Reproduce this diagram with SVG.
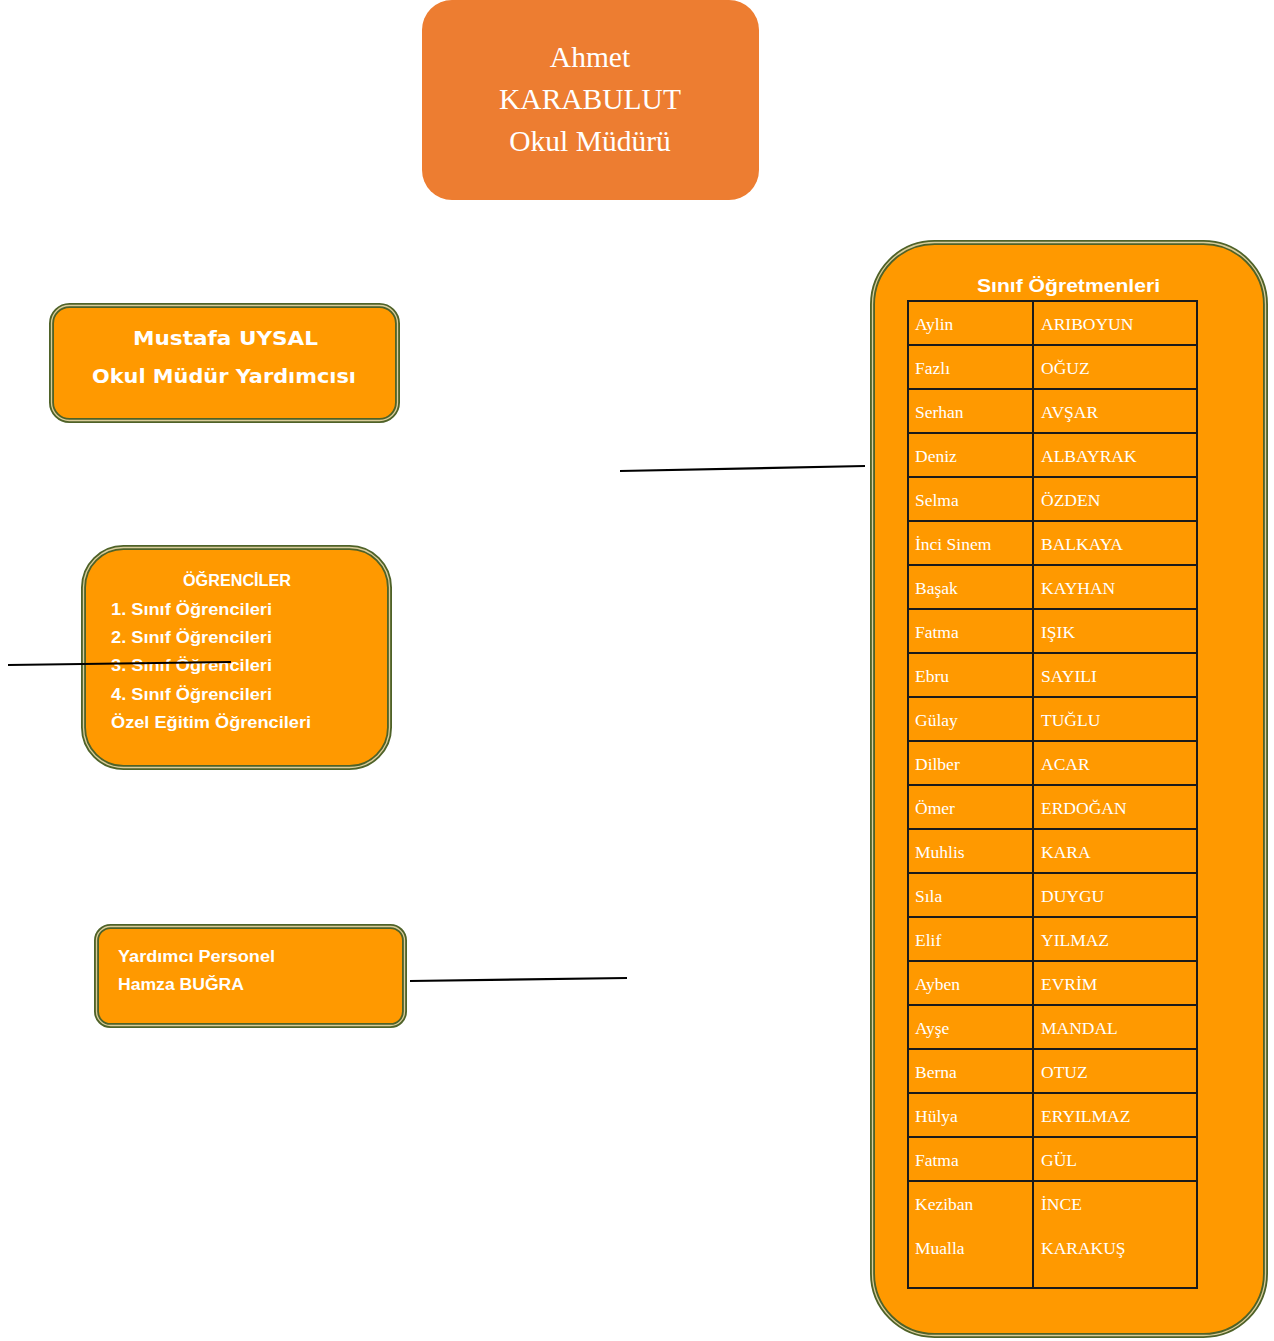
<svg xmlns="http://www.w3.org/2000/svg" width="1274" height="1341" viewBox="0 0 1274 1341">
<style>
.box{fill:#FF9900;stroke:#4F6228;stroke-width:5}
.inner{fill:none;stroke:#D9CC9A;stroke-width:1.3}
.top{font-family:"Liberation Serif",serif;font-size:29.5px;fill:#fff;text-anchor:middle}
.sans{font-family:"Liberation Sans","DejaVu Sans",sans-serif;font-weight:bold;fill:#fff}
.comic{font-family:"DejaVu Sans",sans-serif;font-weight:bold;fill:#fff;font-size:20px}
.cell{font-family:"Liberation Serif",serif;font-size:17.5px;fill:#fff}
.grid{stroke:#1a1a1a;stroke-width:2;fill:none}
.conn{stroke:#000;stroke-width:2.2;fill:none}
</style>
<rect width="1274" height="1341" fill="#fff"/>

<g id="mudur">
<rect x="422" y="0" width="337" height="200" rx="30" fill="#ED7D31"/>
<text class="top" x="590" y="67">Ahmet</text>
<text class="top" x="590" y="109">KARABULUT</text>
<text class="top" x="590" y="151">Okul Müdürü</text>
</g>

<g id="mudur-yardimcisi">
<rect class="box" x="51.5" y="305.5" width="346" height="115" rx="18"/>
<rect class="inner" x="51.5" y="305.5" width="346" height="115" rx="18"/>
<text class="comic" x="133" y="345" textLength="185" lengthAdjust="spacingAndGlyphs">Mustafa UYSAL</text>
<text class="comic" x="92" y="383" textLength="264" lengthAdjust="spacingAndGlyphs">Okul Müdür Yardımcısı</text>
</g>

<g id="ogrenciler">
<rect class="box" x="83.5" y="547.5" width="306" height="220" rx="40"/>
<rect class="inner" x="83.5" y="547.5" width="306" height="220" rx="40"/>
<text class="sans" font-size="16" x="183" y="586" textLength="108" lengthAdjust="spacingAndGlyphs">ÖĞRENCİLER</text>
<text class="sans" font-size="16" x="111" y="615" textLength="161" lengthAdjust="spacingAndGlyphs">1. Sınıf Öğrencileri</text>
<text class="sans" font-size="16" x="111" y="643" textLength="161" lengthAdjust="spacingAndGlyphs">2. Sınıf Öğrencileri</text>
<text class="sans" font-size="16" x="111" y="671" textLength="161" lengthAdjust="spacingAndGlyphs">3. Sınıf Öğrencileri</text>
<text class="sans" font-size="16" x="111" y="700" textLength="161" lengthAdjust="spacingAndGlyphs">4. Sınıf Öğrencileri</text>
<text class="sans" font-size="16" x="111" y="728" textLength="200" lengthAdjust="spacingAndGlyphs">Özel Eğitim Öğrencileri</text>
</g>

<g id="yardimci-personel">
<rect class="box" x="96.5" y="926.5" width="308" height="99" rx="14"/>
<rect class="inner" x="96.5" y="926.5" width="308" height="99" rx="14"/>
<text class="sans" font-size="16" x="118" y="962" textLength="157" lengthAdjust="spacingAndGlyphs">Yardımcı Personel</text>
<text class="sans" font-size="16" x="118" y="990" textLength="126" lengthAdjust="spacingAndGlyphs">Hamza  BUĞRA</text>
</g>

<g id="sinif-ogretmenleri">
<rect class="box" x="872.5" y="242.5" width="393" height="1093" rx="62"/>
<rect class="inner" x="872.5" y="242.5" width="393" height="1093" rx="62"/>
<text class="sans" font-size="19" x="977" y="292" textLength="183" lengthAdjust="spacingAndGlyphs">Sınıf Öğretmenleri</text>
<g class="grid">
<rect x="908" y="301" width="289" height="987"/>
<line x1="1033" y1="301" x2="1033" y2="1288"/>
<line x1="908" y1="345" x2="1197" y2="345"/>
<line x1="908" y1="389" x2="1197" y2="389"/>
<line x1="908" y1="433" x2="1197" y2="433"/>
<line x1="908" y1="477" x2="1197" y2="477"/>
<line x1="908" y1="521" x2="1197" y2="521"/>
<line x1="908" y1="565" x2="1197" y2="565"/>
<line x1="908" y1="609" x2="1197" y2="609"/>
<line x1="908" y1="653" x2="1197" y2="653"/>
<line x1="908" y1="697" x2="1197" y2="697"/>
<line x1="908" y1="741" x2="1197" y2="741"/>
<line x1="908" y1="785" x2="1197" y2="785"/>
<line x1="908" y1="829" x2="1197" y2="829"/>
<line x1="908" y1="873" x2="1197" y2="873"/>
<line x1="908" y1="917" x2="1197" y2="917"/>
<line x1="908" y1="961" x2="1197" y2="961"/>
<line x1="908" y1="1005" x2="1197" y2="1005"/>
<line x1="908" y1="1049" x2="1197" y2="1049"/>
<line x1="908" y1="1093" x2="1197" y2="1093"/>
<line x1="908" y1="1137" x2="1197" y2="1137"/>
<line x1="908" y1="1181" x2="1197" y2="1181"/>
</g>
<g class="cell">
<text x="915" y="330">Aylin</text><text x="1041" y="330">ARIBOYUN</text>
<text x="915" y="374">Fazlı</text><text x="1041" y="374">OĞUZ</text>
<text x="915" y="418">Serhan</text><text x="1041" y="418">AVŞAR</text>
<text x="915" y="462">Deniz</text><text x="1041" y="462">ALBAYRAK</text>
<text x="915" y="506">Selma</text><text x="1041" y="506">ÖZDEN</text>
<text x="915" y="550">İnci Sinem</text><text x="1041" y="550">BALKAYA</text>
<text x="915" y="594">Başak</text><text x="1041" y="594">KAYHAN</text>
<text x="915" y="638">Fatma</text><text x="1041" y="638">IŞIK</text>
<text x="915" y="682">Ebru</text><text x="1041" y="682">SAYILI</text>
<text x="915" y="726">Gülay</text><text x="1041" y="726">TUĞLU</text>
<text x="915" y="770">Dilber</text><text x="1041" y="770">ACAR</text>
<text x="915" y="814">Ömer</text><text x="1041" y="814">ERDOĞAN</text>
<text x="915" y="858">Muhlis</text><text x="1041" y="858">KARA</text>
<text x="915" y="902">Sıla</text><text x="1041" y="902">DUYGU</text>
<text x="915" y="946">Elif</text><text x="1041" y="946">YILMAZ</text>
<text x="915" y="990">Ayben</text><text x="1041" y="990">EVRİM</text>
<text x="915" y="1034">Ayşe</text><text x="1041" y="1034">MANDAL</text>
<text x="915" y="1078">Berna</text><text x="1041" y="1078">OTUZ</text>
<text x="915" y="1122">Hülya</text><text x="1041" y="1122">ERYILMAZ</text>
<text x="915" y="1166">Fatma</text><text x="1041" y="1166">GÜL</text>
<text x="915" y="1210">Keziban</text><text x="1041" y="1210">İNCE</text>
<text x="915" y="1254">Mualla</text><text x="1041" y="1254">KARAKUŞ</text>
</g>
</g>

<g id="connectors">
<line class="conn" x1="620" y1="471" x2="865" y2="466"/>
<line class="conn" x1="8" y1="665" x2="231" y2="662"/>
<line class="conn" x1="410" y1="981" x2="627" y2="978"/>
</g>
</svg>
